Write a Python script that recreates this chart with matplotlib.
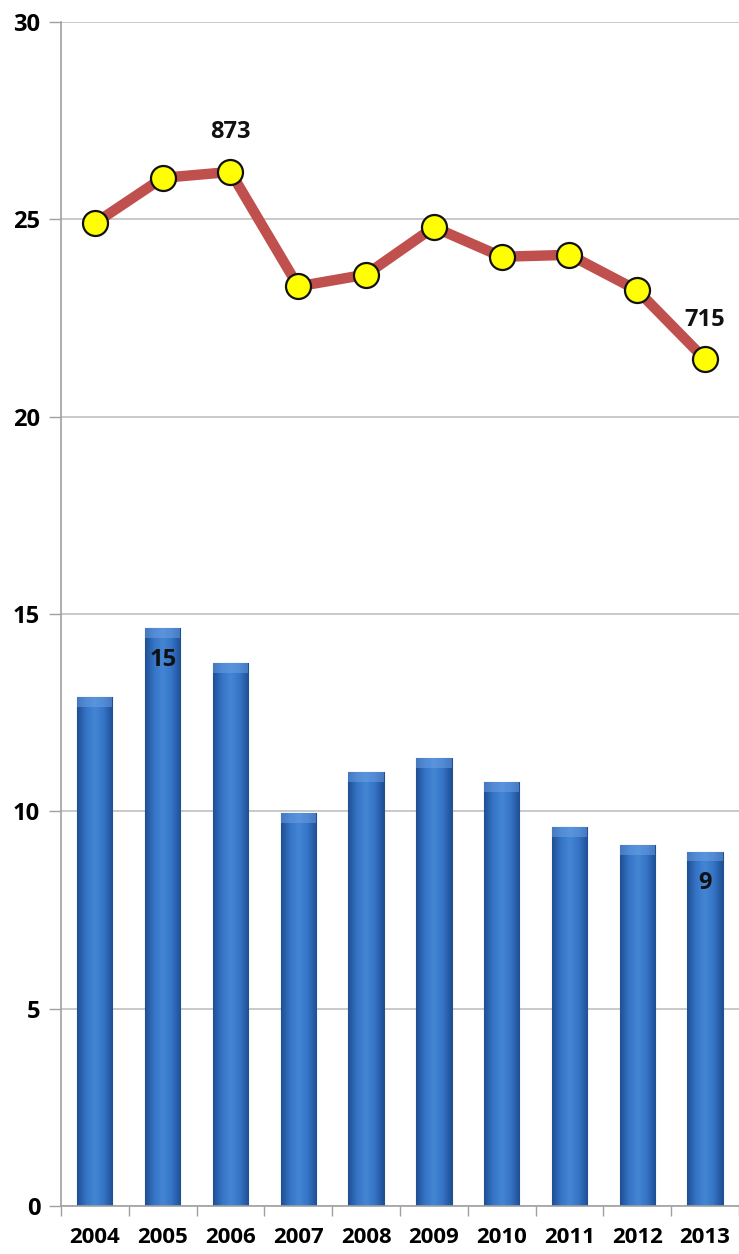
import numpy as np
import matplotlib
matplotlib.use("Agg")
import matplotlib.pyplot as plt
from matplotlib.colors import LinearSegmentedColormap

# data
years = ['2004', '2005', '2006', '2007', '2008', '2009', '2010', '2011', '2012', '2013']
bar_vals = [12.9, 14.65, 13.75, 9.95, 11.0, 11.35, 10.75, 9.6, 9.15, 8.98]
line_vals = [24.9, 26.05, 26.2, 23.3, 23.6, 24.8, 24.05, 24.1, 23.2, 21.45]
line_notes = {2: '873', 9: '715'}
bar_notes = {1: '15', 9: '9'}
y_ticks = [0, 5, 10, 15, 20, 25, 30]

plt.rcParams['font.family'] = ['Open Sans', 'DejaVu Sans']
plt.rcParams['font.weight'] = 'bold'

fig = plt.figure(figsize=(7.39, 12.54), dpi=100)
ax = fig.add_axes([0.0825, 0.0383, 0.9175, 0.9442])

x = np.arange(len(years))
bars = ax.bar(x, bar_vals, width=0.52, color='#3a76c4', edgecolor='#25508f',
              linewidth=0.8, zorder=2)

# horizontal shading on every bar, dark at the sides
shade = LinearSegmentedColormap.from_list(
    'shade', ['#1f4f94', '#3574c6', '#4485d4', '#3574c6', '#1f4f94'])
grad = np.linspace(0, 1, 64).reshape(1, -1)
for b in bars:
    bx, bw, bh = b.get_x(), b.get_width(), b.get_height()
    im = ax.imshow(grad, cmap=shade, aspect='auto', zorder=2.1,
                   extent=[bx, bx + bw, 0, bh], interpolation='bicubic')
    im.set_clip_path(b)
    # lighter bevel on top of each bar
    ax.fill_between([bx, bx + bw], bh - 0.25, bh, color='#6fa3e6', alpha=0.5,
                    zorder=2.2, linewidth=0)

ax.plot(x, line_vals, color='#c0504d', linewidth=7.5, zorder=3,
        marker='o', markersize=18, markerfacecolor='#ffff00',
        markeredgecolor='#111111', markeredgewidth=1.6, solid_capstyle='round')

for i, txt in line_notes.items():
    ax.annotate(txt, (x[i], line_vals[i]), xytext=(0, 20),
                textcoords='offset points', ha='center', va='bottom',
                fontsize=17, fontweight='bold', color='#111111', zorder=4)
for i, txt in bar_notes.items():
    ax.text(x[i], bar_vals[i] - 0.5, txt, ha='center', va='top',
            fontsize=17, fontweight='bold', color='#111111', zorder=4)

ax.set_xlim(-0.5, len(years) - 0.5)
ax.set_ylim(0, 30)
ax.set_yticks(y_ticks)
ax.set_xticks(x)
ax.set_xticklabels(years)
ax.set_xticks(np.arange(-0.5, len(years)), minor=True)
ax.tick_params(axis='x', which='major', length=0, pad=15, labelsize=16)
ax.tick_params(axis='x', which='minor', length=7, width=1, color='#a0a0a0')
ax.tick_params(axis='y', length=9, width=1, color='#a0a0a0', pad=6, labelsize=17)

ax.grid(axis='y', color='#c0c0c0', linewidth=1.2, zorder=0)
ax.set_axisbelow(True)
for s in ['top', 'right']:
    ax.spines[s].set_visible(False)
ax.spines['left'].set_color('#a0a0a0')
ax.spines['bottom'].set_color('#a0a0a0')
ax.spines['left'].set_linewidth(1.2)
ax.spines['bottom'].set_linewidth(1.2)

fig.savefig('out.png', dpi=100)
